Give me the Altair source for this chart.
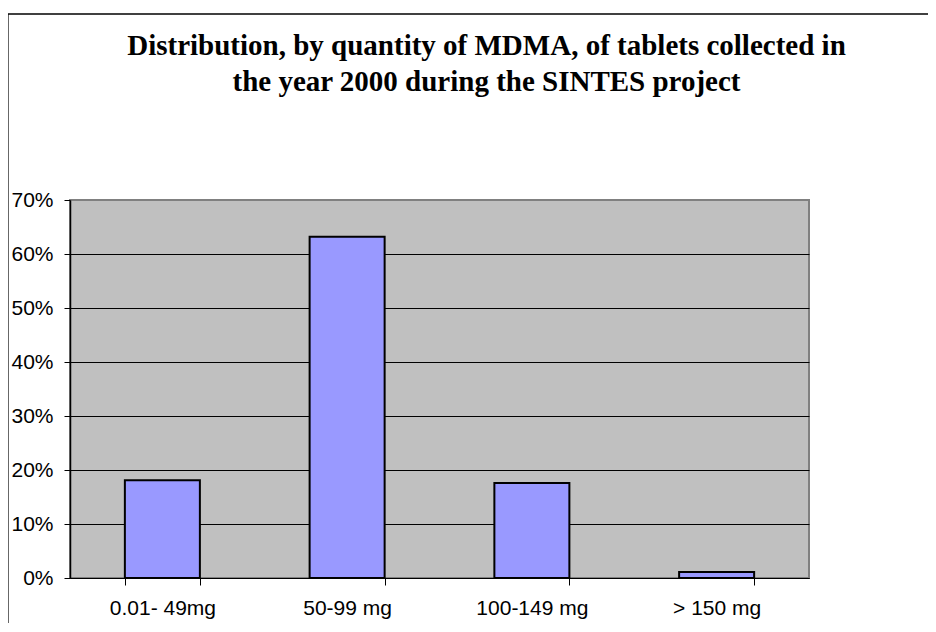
import altair as alt
import pandas as pd

categories = ["0.01- 49mg", "50-99 mg", "100-149 mg", "> 150 mg"]
shares = [0.181, 0.632, 0.176, 0.011]
y_ticks = [0, 0.1, 0.2, 0.3, 0.4, 0.5, 0.6, 0.7]
title_lines = ["Distribution, by quantity of MDMA, of tablets collected in",
               "the year 2000 during the SINTES project"]

df = pd.DataFrame({"category": categories, "share": shares})

bars = alt.Chart(df).mark_bar(
    color="#9999FF", stroke="black", strokeWidth=2
).encode(
    x=alt.X("category:N", sort=categories,
            scale=alt.Scale(paddingInner=0.594, paddingOuter=0.297),
            axis=alt.Axis(title=None, labelAngle=0, tickBand="extent",
                          labelFont="Liberation Sans", labelFontSize=21,
                          labelColor="black", labelPadding=12,
                          domainColor="black", domainWidth=1,
                          tickColor="black", tickSize=7, tickWidth=1)),
    y=alt.Y("share:Q",
            scale=alt.Scale(domain=[0, 0.7], nice=False),
            axis=alt.Axis(title=None, values=y_ticks, format=".0%",
                          labelFont="Liberation Sans", labelFontSize=21,
                          labelColor="black", labelPadding=11,
                          domainColor="black", domainWidth=1.5,
                          tickColor="black", tickSize=6, tickWidth=1,
                          grid=True,
                          gridColor={"condition": {"test": "datum.value >= 0.69", "value": "#808080"},
                                     "value": "black"},
                          gridWidth=1)),
)

frame_df = pd.DataFrame({"a": [0]})
left_frame = alt.Chart(frame_df).mark_rule(color="black", strokeWidth=1.2).encode(
    x=alt.value(-62), y=alt.value(-186), y2=alt.value(700))
top_frame = alt.Chart(frame_df).mark_rule(color="black", strokeWidth=1.5).encode(
    x=alt.value(-62), x2=alt.value(1000), y=alt.value(-186))

chart = alt.layer(bars, left_frame, top_frame).properties(
    width=739, height=378,
    autosize=alt.AutoSizeParams(type="none"),
    padding={"left": 62, "top": 192, "right": 119, "bottom": 45},
    title=alt.TitleParams(text=title_lines, font="Liberation Serif",
                          fontSize=29, fontWeight="bold", color="black",
                          anchor="middle", dx=47, offset=-84, lineHeight=36),
).configure(background="white").configure_view(
    fill="#C0C0C0", stroke="#808080", strokeWidth=2
)

chart.save("out.html", embed_options={"renderer": "svg", "actions": False})
